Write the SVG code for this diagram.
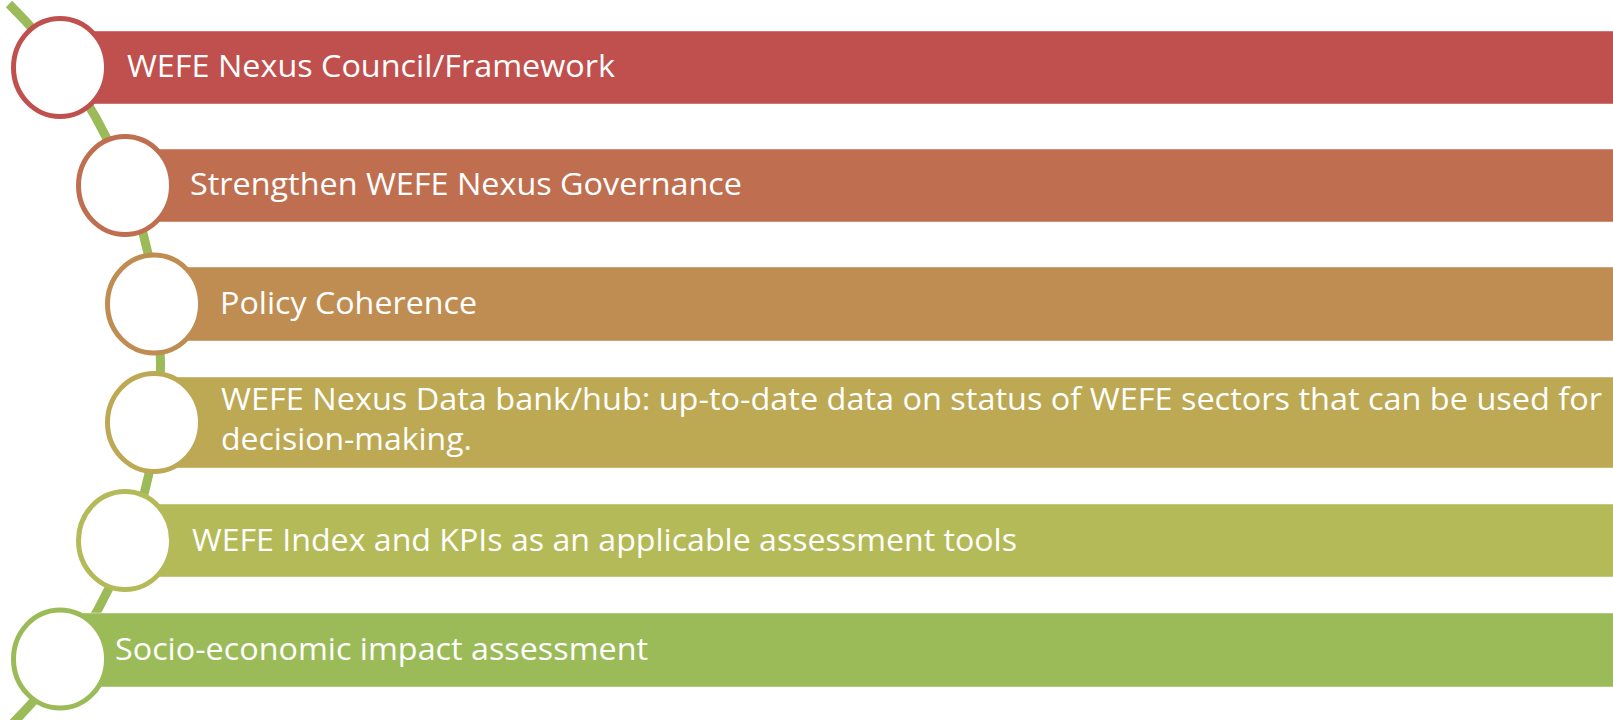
<svg xmlns="http://www.w3.org/2000/svg" width="1613" height="720" viewBox="0 0 1613 720">
<style>
.bar{stroke:#ffffff;stroke-opacity:0.45;stroke-width:1}
.ring{fill:#ffffff;stroke-width:5}
.lbl{font-family:"Open Sans","Noto Sans","Liberation Sans",sans-serif;font-size:31px;fill:#ffffff}
</style>
<rect width="1613" height="720" fill="#ffffff"/>
<g id="connectors">
<path d="M9,4 A507,507 0 0 1 12,724" fill="none" stroke="#9BBB59" stroke-width="9"/>
</g>
<g id="node1">
<rect class="bar" x="60" y="31" width="1560" height="73" fill="#C0504D"/>
<ellipse class="ring" cx="60" cy="67.5" rx="46.5" ry="49" stroke="#C0504D"/>
<text class="lbl" x="127" y="77" textLength="488" lengthAdjust="spacingAndGlyphs">WEFE Nexus Council/Framework</text>
</g>
<g id="node2">
<rect class="bar" x="125" y="149" width="1495" height="73" fill="#BF6F50"/>
<ellipse class="ring" cx="125" cy="185.5" rx="46.5" ry="49" stroke="#BF6F50"/>
<text class="lbl" x="190" y="195" textLength="552" lengthAdjust="spacingAndGlyphs">Strengthen WEFE Nexus Governance</text>
</g>
<g id="node3">
<rect class="bar" x="154" y="267" width="1466" height="74" fill="#BF8D52"/>
<ellipse class="ring" cx="154" cy="304" rx="46.5" ry="49" stroke="#BF8D52"/>
<text class="lbl" x="220" y="314" textLength="257" lengthAdjust="spacingAndGlyphs">Policy Coherence</text>
</g>
<g id="node4">
<rect class="bar" x="154" y="377" width="1466" height="91" fill="#BDA853"/>
<ellipse class="ring" cx="154" cy="422.5" rx="46.5" ry="49" stroke="#BDA853"/>
<text class="lbl" x="221" y="410" textLength="1381" lengthAdjust="spacingAndGlyphs">WEFE Nexus Data bank/hub: up-to-date data on status of WEFE sectors that can be used for</text>
<text class="lbl" x="221" y="450" textLength="251" lengthAdjust="spacingAndGlyphs">decision-making.</text>
</g>
<g id="node5">
<rect class="bar" x="125" y="504" width="1495" height="73" fill="#B5BA58"/>
<ellipse class="ring" cx="125" cy="540.5" rx="46.5" ry="49" stroke="#B5BA58"/>
<text class="lbl" x="192" y="551" textLength="825" lengthAdjust="spacingAndGlyphs">WEFE Index and KPIs as an applicable assessment tools</text>
</g>
<g id="node6">
<rect class="bar" x="60" y="613" width="1560" height="74" fill="#9BBB59"/>
<ellipse class="ring" cx="60" cy="659" rx="46.5" ry="49" stroke="#9BBB59"/>
<text class="lbl" x="115" y="660" textLength="533" lengthAdjust="spacingAndGlyphs">Socio-economic impact assessment</text>
</g>
</svg>
